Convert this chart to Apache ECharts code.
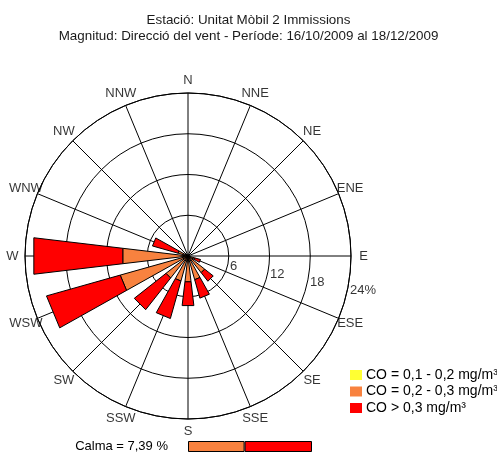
<!DOCTYPE html>
<html>
<head>
<meta charset="utf-8">
<script src="https://cdn.jsdelivr.net/npm/echarts@6/dist/echarts.min.js"></script>
<style>html,body{margin:0;padding:0;background:#fff}#c{width:497px;height:453px}</style>
</head>
<body>
<div id="c"></div>
<script>
const directions = ['N','NNE','NE','ENE','E','ESE','SE','SSE','S','SSW','SW','WSW','W','WNW','NW','NNW'];
const classNames = ['CO = 0,1 - 0,2 mg/m³', 'CO = 0,2 - 0,3 mg/m³', 'CO > 0,3 mg/m³'];
const classColors = ['#ffff33', '#f8823f', '#ff0000'];
const yellowVals = [0, 0, 0, 0, 0, 0, 0, 0, 0, 0, 0, 0, 0, 0, 0, 0];
const orangeVals = [0, 0, 0, 0, 0, 1.0, 3.1, 3.6, 3.8, 3.8, 4.1, 10.3, 9.6, 1.5, 0, 0];
const redVals    = [0, 0, 0, 0, 0, 0.9, 1.6, 2.8, 3.5, 5.7, 5.9, 11.2, 13.1, 3.9, 0, 0];
const ringTicks = [6, 12, 18, 24];
const calmPct = 7.39;

const font = "'Liberation Sans', Arial, sans-serif";
const step = 360 / directions.length;
const classVals = [yellowVals, orangeVals, redVals];
const rMax = ringTicks[ringTicks.length - 1];
const polarRadiusPx = 163;

function buildData(k) {
  return directions.map((d, i) => {
    let start = 0;
    for (let j = 0; j < k; j++) start += classVals[j][i];
    return [i * step, start, start + classVals[k][i]];
  });
}

const halfW = 6.75;
const kCos = 1 / Math.cos(halfW * Math.PI / 180);
function renderWedge(params, api) {
  const a = api.value(0), r0 = api.value(1), r1 = api.value(2);
  if (r1 - r0 <= 0) return null;
  const pts = [
    api.coord([r0 * kCos, a - halfW]),
    api.coord([r0 * kCos, a + halfW]),
    api.coord([r1 * kCos, a + halfW]),
    api.coord([r1 * kCos, a - halfW])
  ];
  return {type: 'polygon', shape: {points: pts}, style: {fill: api.visual('color'), stroke: '#000', lineWidth: 1}};
}

const wedgeSeries = classNames.map((n, k) => ({
  type: 'custom', name: n, coordinateSystem: 'polar', polarIndex: 0,
  itemStyle: {color: classColors[k]},
  encode: {angle: 0, radius: 2},
  renderItem: renderWedge,
  data: buildData(k),
  silent: true, z: 5
}));

const sumOf = arr => arr.reduce((s, v) => s + v, 0);
const classTotals = classVals.map(sumOf);
const grand = sumOf(classTotals);

// direction labels sit just outside the outer ring
const dirLabelR = rMax * (polarRadiusPx + 12.5) / polarRadiusPx;

const option = {
  animation: false,
  backgroundColor: '#fff',
  textStyle: {fontFamily: font},
  title: {
    text: 'Estació: Unitat Mòbil 2 Immissions\nMagnitud: Direcció del vent - Període: 16/10/2009 al 18/12/2009',
    left: 'center', top: 7,
    textStyle: {fontSize: 13.4, fontWeight: 'normal', color: '#1a1a1a', lineHeight: 16, fontFamily: font}
  },
  legend: {
    data: classNames, orient: 'vertical', left: 350, top: 368,
    icon: 'rect', itemWidth: 12, itemHeight: 10, itemGap: 2.5, padding: 0,
    itemStyle: {borderWidth: 0},
    textStyle: {fontSize: 14, color: '#000', fontFamily: font, padding: [0, 0, 0, -1]},
    selectedMode: false
  },
  polar: {center: [188, 256], radius: polarRadiusPx},
  angleAxis: {
    type: 'value', min: 0, max: 360, interval: step, startAngle: 90, clockwise: true,
    axisLine: {show: true, lineStyle: {color: '#000', width: 1}},
    axisTick: {show: false},
    splitLine: {show: true, lineStyle: {color: '#000', width: 1}},
    axisLabel: {show: false}
  },
  radiusAxis: {
    type: 'value', min: 0, max: rMax, interval: ringTicks[0],
    axisLine: {show: false}, axisTick: {show: false}, axisLabel: {show: false},
    splitLine: {show: true, lineStyle: {color: '#000', width: 1}}
  },
  grid: {left: 188, top: 441, width: 124, height: 11},
  xAxis: {type: 'value', min: 0, max: grand, show: false},
  yAxis: {
    type: 'category', data: ['Calma = ' + calmPct.toFixed(2).replace('.', ',') + ' %'],
    axisLine: {show: false}, axisTick: {show: false},
    axisLabel: {margin: 20, fontSize: 13, color: '#000', fontFamily: font}
  },
  series: [
    ...wedgeSeries,
    {
      type: 'scatter', coordinateSystem: 'polar', symbolSize: 0, silent: true, z: 10, clip: false,
      data: ringTicks.map(v => [v, 101]),
      label: {
        show: true, position: 'right', distance: 2, offset: [0, 3],
        fontSize: 13, color: '#000', fontFamily: font,
        formatter: p => p.value[0] === rMax ? p.value[0] + '%' : String(p.value[0])
      }
    },
    {
      type: 'scatter', coordinateSystem: 'polar', symbolSize: 0, silent: true, z: 10, clip: false,
      data: directions.map((d, i) => ({name: d, value: [dirLabelR, i * step]})),
      label: {
        show: true, position: 'inside', align: 'center', verticalAlign: 'middle',
        fontSize: 13, color: '#000', fontFamily: font,
        formatter: p => p.name
      }
    },
    ...classNames.map((n, k) => ({
      type: 'bar', name: 'bar' + k, stack: 'calm', xAxisIndex: 0, yAxisIndex: 0,
      barWidth: 11, silent: true,
      itemStyle: {color: classColors[k], borderColor: '#000', borderWidth: classTotals[k] > 0 ? 1 : 0},
      data: [classTotals[k]]
    }))
  ]
};

const chart = echarts.init(document.getElementById('c'), null, {renderer: 'canvas'});
chart.setOption(option);
</script>
</body>
</html>
